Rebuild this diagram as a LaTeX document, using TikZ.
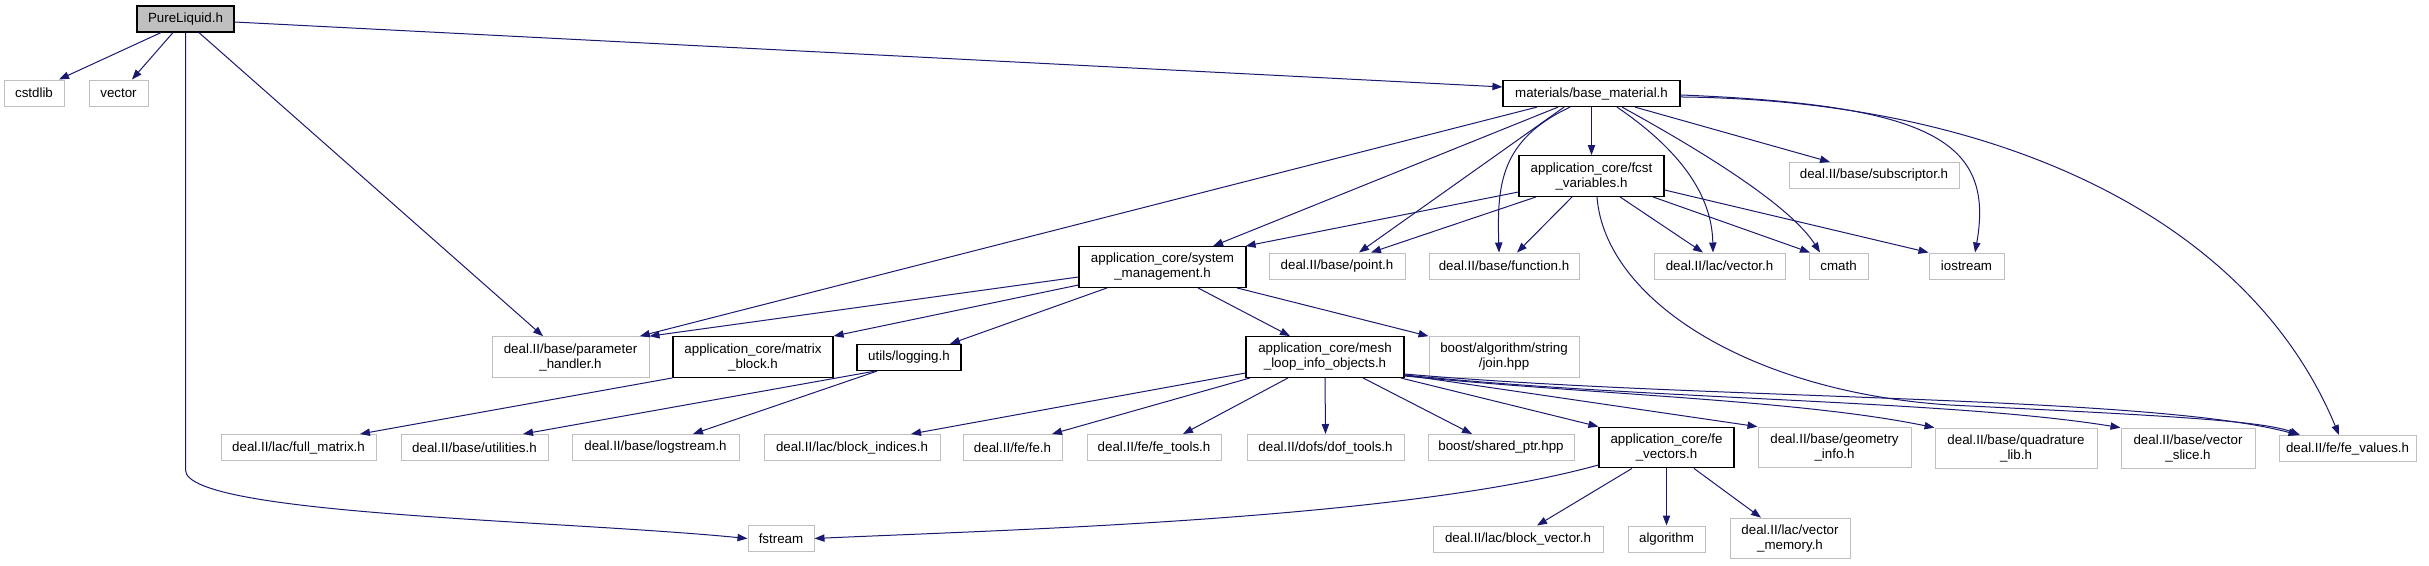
\documentclass[tikz,border=0pt]{standalone}
\usepackage{fontspec}
\setmainfont{Liberation Sans}
\usetikzlibrary{arrows.meta}
\definecolor{edgec}{HTML}{191970}
\definecolor{extc}{HTML}{BFBFBF}
\begin{document}
\begin{tikzpicture}[x=0.75pt,y=-0.75pt,
  box/.style={rectangle, inner sep=0pt, minimum height=19.5pt, font=\fontsize{10}{11.25}\selectfont, align=center},
  ext/.style={box, draw=extc, line width=0.75pt, fill=white},
  doc/.style={box, draw=black, line width=0.9pt, fill=white},
  tall/.style={minimum height=30.5pt},
  bw/.style={minimum width=#1*0.75pt},
  edge/.style={draw=edgec, line width=0.75pt, -{Triangle[length=7.5pt,width=5.5pt]}},
]
\useasboundingbox (0,0) rectangle (2429,565);
% nodes
\node[doc, fill=extc, bw=97] (pure) at (185.5,19) {PureLiquid.h};
\node[ext, bw=60] (cstdlib) at (34,93) {cstdlib};
\node[ext, bw=59] (vector) at (118.5,93) {vector};
\node[doc, bw=177] (base) at (1591.5,93.5) {materials/base\_material.h};
\node[doc, tall, bw=145] (fcst) at (1591.5,176) {application\_core/fcst\\\_variables.h};
\node[ext, bw=170] (subscr) at (1874,175.5) {deal.II/base/subscriptor.h};
\node[doc, tall, bw=167] (sysm) at (1162.5,267) {application\_core/system\\\_management.h};
\node[ext, bw=136] (point) at (1337,266) {deal.II/base/point.h};
\node[ext, bw=150] (function) at (1504,266) {deal.II/base/function.h};
\node[ext, bw=131] (lacvec) at (1719.5,266) {deal.II/lac/vector.h};
\node[ext, bw=59] (cmath) at (1838.5,266) {cmath};
\node[ext, bw=75] (iostream) at (1966.5,266) {iostream};
\node[ext, tall, bw=157] (param) at (570.5,357) {deal.II/base/parameter\\\_handler.h};
\node[doc, tall, bw=160] (matrix) at (753,357) {application\_core/matrix\\\_block.h};
\node[doc, bw=104] (logging) at (909,357.5) {utils/logging.h};
\node[doc, tall, bw=158] (mesh) at (1325,357) {application\_core/mesh\\\_loop\_info\_objects.h};
\node[ext, tall, bw=150] (join) at (1504,357) {boost/algorithm/string\\/join.hpp};
\node[ext, bw=155] (fullm) at (298.5,447.5) {deal.II/lac/full\_matrix.h};
\node[ext, bw=147] (util) at (474.5,447.5) {deal.II/base/utilities.h};
\node[ext, bw=167] (logst) at (655.5,447.5) {deal.II/base/logstream.h};
\node[ext, bw=176] (blkidx) at (852,447.5) {deal.II/lac/block\_indices.h};
\node[ext, bw=99] (fe) at (1012.5,447.5) {deal.II/fe/fe.h};
\node[ext, bw=134] (fetools) at (1154,447.5) {deal.II/fe/fe\_tools.h};
\node[ext, bw=157] (doft) at (1325.5,447.5) {deal.II/dofs/dof\_tools.h};
\node[ext, bw=146] (shptr) at (1501,447.5) {boost/shared\_ptr.hpp};
\node[doc, tall, bw=135] (fevec) at (1666.5,447.5) {application\_core/fe\\\_vectors.h};
\node[ext, tall, bw=153] (geom) at (1834.5,447.5) {deal.II/base/geometry\\\_info.h};
\node[ext, tall, bw=162] (quad) at (2016,448.5) {deal.II/base/quadrature\\\_lib.h};
\node[ext, tall, bw=134] (vslice) at (2188,448.5) {deal.II/base/vector\\\_slice.h};
\node[ext, bw=137] (fevals) at (2347.5,448.5) {deal.II/fe/fe\_values.h};
\node[ext, bw=66] (fstream) at (781,538.5) {fstream};
\node[ext, bw=170] (blkvec) at (1518,539) {deal.II/lac/block\_vector.h};
\node[ext, bw=77] (algo) at (1666.5,539) {algorithm};
\node[ext, tall, bw=120] (vecmem) at (1790,538.5) {deal.II/lac/vector\\\_memory.h};
% PureLiquid.h
\draw[edge] ([xshift=-18.4pt]pure.south) -- ([xshift=18.75pt]cstdlib.north);
\draw[edge] ([xshift=-9.4pt]pure.south) -- ([xshift=10.1pt]vector.north);
\draw[edge] ([yshift=-2.25pt]pure.east) -- ([yshift=4.9pt]base.west);
\draw[edge] ([xshift=10.1pt]pure.south) -- ([xshift=-20.6pt]param.north);
\draw[edge] (pure.south) -- (185.5,470) .. controls (185.5,515) and (560,520) .. (fstream.west);
% base_material.h
\draw[edge] (base.south) -- (fcst.north);
\draw[edge] ([xshift=-25.1pt]base.south) -- ([xshift=37.9pt]sysm.north);
\draw[edge] ([xshift=-40.9pt]base.south) -- ([xshift=52pt]param.north);
\draw[edge] ([xshift=-20.6pt]base.south) -- ([xshift=16.5pt]point.north);
\draw[edge] ([xshift=-16.1pt]base.south) .. controls (1500,140) and (1497,185) .. ([xshift=-3.75pt]function.north);
\draw[edge] ([xshift=19.1pt]base.south) .. controls (1680,150) and (1712,195) .. ([xshift=-4.9pt]lacvec.north);
\draw[edge] ([xshift=22.9pt]base.south) .. controls (1700,150) and (1790,205) .. ([xshift=-13.9pt]cmath.north);
\draw[edge] ([xshift=32.6pt]base.south) -- ([xshift=-33pt]subscr.north);
\draw[edge] ([yshift=-1.1pt]base.east) .. controls (1930,105) and (1995,140) .. ([xshift=6.4pt]iostream.north);
\draw[edge] ([yshift=-2.6pt]base.east) .. controls (2000,100) and (2250,220) .. ([xshift=-6.4pt]fevals.north);
% fcst_variables.h
\draw[edge] ([yshift=-12pt]fcst.west) -- ([xshift=-0.75pt]sysm.north east);
\draw[edge] ([xshift=-41.6pt]fcst.south) -- ([xshift=25.5pt]point.north);
\draw[edge] ([xshift=-14.6pt]fcst.south) -- ([xshift=9.75pt]function.north);
\draw[edge] ([xshift=21.4pt]fcst.south) -- ([xshift=-12.4pt]lacvec.north);
\draw[edge] ([xshift=46.1pt]fcst.south) -- ([xshift=-21.4pt]cmath.north);
\draw[edge] ([yshift=-10.5pt]fcst.east) -- (iostream.north west);
\draw[edge] ([xshift=4.1pt]fcst.south) .. controls (1605,300) and (1750,392) .. (1950,405) .. controls (2150,415) and (2260,420) .. ([xshift=-35.6pt]fevals.north);
% system_management.h
\draw[edge] ([yshift=-7.5pt]sysm.west) -- (param.north east);
\draw[edge] ([yshift=-13.5pt]sysm.west) -- (matrix.north east);
\draw[edge] ([xshift=-41.6pt]sysm.south) -- ([xshift=30.75pt]logging.north);
\draw[edge] ([xshift=26.6pt]sysm.south) -- ([xshift=-26.25pt]mesh.north);
\draw[edge] ([xshift=55.9pt]sysm.south) -- (join.north west);
% matrix_block.h, logging.h
\draw[edge] (matrix.south west) -- ([xshift=46.1pt]fullm.north);
\draw[edge] ([xshift=-25.5pt]logging.south) -- ([xshift=36.4pt]util.north);
\draw[edge] ([xshift=-24pt]logging.south) -- ([xshift=28.1pt]logst.north);
% mesh_loop_info_objects.h
\draw[edge] ([yshift=-12pt]mesh.west) -- ([xshift=44.25pt]blkidx.north);
\draw[edge] ([xshift=-56.25pt]mesh.south) -- ([xshift=29.6pt]fe.north);
\draw[edge] ([xshift=-27.75pt]mesh.south) -- ([xshift=21.75pt]fetools.north);
\draw[edge] (mesh.south) -- (doft.north);
\draw[edge] ([xshift=28.5pt]mesh.south) -- ([xshift=-21.75pt]shptr.north);
\draw[edge] ([xshift=-3pt]mesh.south east) -- (fevec.north west);
\draw[edge] ([yshift=-13.5pt]mesh.east) -- (geom.north west);
\draw[edge] ([yshift=-14.25pt]mesh.east) .. controls (1600,395) and (1800,400) .. (quad.north west);
\draw[edge] ([yshift=-13.5pt]mesh.east) .. controls (1650,400) and (1950,400) .. (vslice.north west);
\draw[edge] ([yshift=-12.75pt]mesh.east) .. controls (1700,400) and (2150,395) .. ([xshift=15pt]fevals.north west);
% fe_vectors.h
\draw[edge] ([yshift=-13.1pt]fevec.west) .. controls (1400,520) and (1000,530) .. (fstream.east);
\draw[edge] ([xshift=-25.9pt]fevec.south) -- ([xshift=14.25pt]blkvec.north);
\draw[edge] (fevec.south) -- (algo.north);
\draw[edge] ([xshift=20.6pt]fevec.south) -- ([xshift=-21.75pt]vecmem.north);
\end{tikzpicture}
\end{document}
